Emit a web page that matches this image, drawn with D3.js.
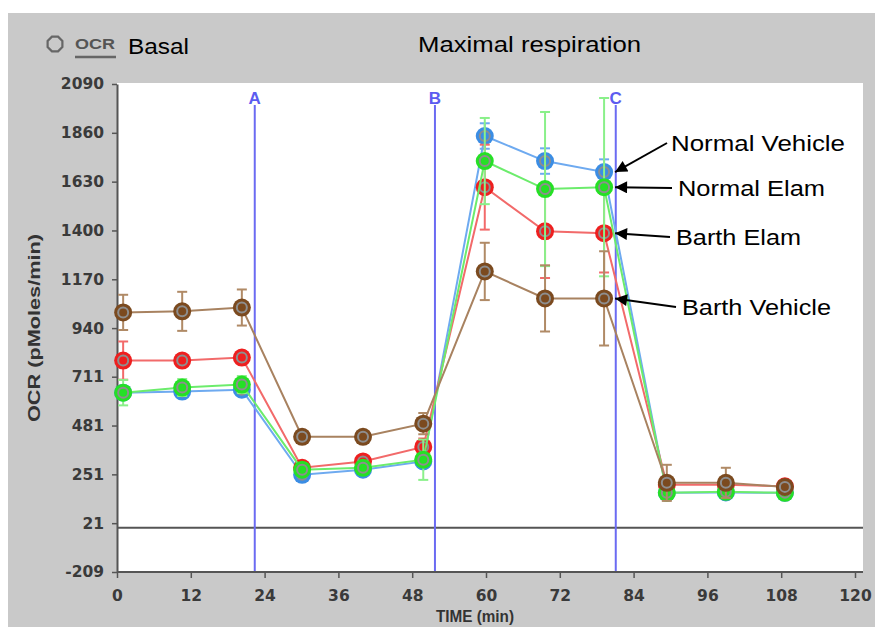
<!DOCTYPE html>
<html>
<head>
<meta charset="utf-8">
<script src="https://cdn.jsdelivr.net/npm/d3@7"></script>
<style>
  body { margin: 0; background: #fff; }
  text { font-family: "Liberation Sans", Arial, sans-serif; }
  .tick text { font-family: "DejaVu Sans", Verdana, sans-serif; }
</style>
</head>
<body>
<script>
'use strict'

// time points (min)
let times = [1, 10.6, 20.3, 30.1, 40, 49.8, 59.8, 69.6, 79.2, 89.4, 99, 108.6]

let normalVehicle    = [636, 641, 650, 249, 273, 312, 1845, 1727, 1675, 164, 166, 164]
let normalVehicleErr = [30, 25, 25, 20, 20, 30, 60, 60, 60, 15, 15, 15]
let normalElam       = [636, 660, 674, 273, 282, 320, 1727, 1595, 1604, 164, 169, 164]
let normalElamErr    = [60, 40, 40, 30, 30, 95, 203, 363, 420, 20, 20, 20]
let barthElam        = [787, 787, 801, 282, 312, 380, 1604, 1396, 1387, 202, 202, 195]
let barthElamErr     = [90, 30, 30, 25, 30, 40, 200, 220, 185, 20, 20, 20]
let barthVehicle     = [1014, 1019, 1037, 428, 428, 490, 1207, 1080, 1080, 211, 211, 192]
let barthVehicleErr  = [83, 92, 85, 20, 20, 50, 135, 156, 222, 85, 71, 30]

let injections = [22.4, 51.7, 81.1]
let injectionNames = ["A", "B", "C"]

let yTicks = [-209, 21, 251, 481, 711, 940, 1170, 1400, 1630, 1860, 2090]
let xTicks = [0, 12, 24, 36, 48, 60, 72, 84, 96, 108, 120]

// draw order: blue, red, green, brown
let series = [
  { name: "Normal Vehicle", v: normalVehicle, e: normalVehicleErr, fill: "#3b8de4", line: "#6eaaf0", bar: "#6eaaf0" },
  { name: "Barth Elam",     v: barthElam,     e: barthElamErr,     fill: "#ee1f1f", line: "#f26a6a", bar: "#f26a6a" },
  { name: "Normal Elam",    v: normalElam,    e: normalElamErr,    fill: "#25e025", line: "#6cec6c", bar: "#8af08a" },
  { name: "Barth Vehicle",  v: barthVehicle,  e: barthVehicleErr,  fill: "#7b4a1f", line: "#a88260", bar: "#b08a66" }
]

// annotation labels, pointing at the last point before injection C
let notes = [
  { text: "Normal Vehicle", tx: 671, ty: 151, w: 174, ax: 667, ay: 143, s: 0 },
  { text: "Normal Elam",    tx: 678, ty: 196, w: 147, ax: 672, ay: 188, s: 2 },
  { text: "Barth Elam",     tx: 676, ty: 245, w: 125, ax: 670, ay: 237, s: 1 },
  { text: "Barth Vehicle",  tx: 682, ty: 315, w: 149, ax: 676, ay: 307, s: 3 }
]

let width = 875, height = 630
let svg = d3.select("body").append("svg")
  .attr("width", width)
  .attr("height", height)

// gray panel + white plot area
svg.append("rect").attr("x", 8).attr("y", 13).attr("width", 867).attr("height", 614).attr("fill", "#c9c9c9")
svg.append("rect").attr("x", 117).attr("y", 83).attr("width", 746).attr("height", 489).attr("fill", "#fff")

let x = d3.scaleLinear().domain([0, 120]).range([117, 855])
let y = d3.scaleLinear().domain([-209, 2090]).range([572, 84])

// zero line
svg.append("line")
  .attr("x1", 117).attr("x2", 863)
  .attr("y1", y(0)).attr("y2", y(0))
  .attr("stroke", "#555").attr("stroke-width", 2)

// injection lines
let inj = svg.append("g")
inj.selectAll("line").data(injections).enter().append("line")
  .attr("x1", d => x(d)).attr("x2", d => x(d))
  .attr("y1", 105).attr("y2", 572)
  .attr("stroke", "#6b6bf2").attr("stroke-width", 2)
inj.selectAll("text").data(injections).enter().append("text")
  .attr("x", d => x(d)).attr("y", 104)
  .attr("text-anchor", "middle")
  .attr("font-size", 17).attr("font-weight", "bold")
  .attr("fill", "#5c5cf0")
  .text((d, i) => injectionNames[i])

// axes
let yAxis = d3.axisLeft(y).tickValues(yTicks).tickSize(5).tickSizeOuter(0).tickPadding(8).tickFormat(d => String(d))
let xAxis = d3.axisBottom(x).tickValues(xTicks).tickSize(6).tickSizeOuter(0).tickPadding(12)

let gy = svg.append("g").attr("transform", "translate(117,0)").call(yAxis)
let gx = svg.append("g").attr("transform", "translate(0,572)").call(xAxis)
gx.select(".domain").attr("d", "M117,0H863")

;[gx, gy].forEach(g => {
  g.select(".domain").attr("stroke", "#555").attr("stroke-width", 2)
  g.selectAll(".tick line").attr("stroke", "#555").attr("stroke-width", 1.5)
  g.selectAll(".tick text")
    .attr("font-size", 15.5).attr("font-weight", "bold").attr("fill", "#3a3a3a")
})

// series
let lineGen = d3.line().x((d, i) => x(times[i])).y(d => y(d))

series.forEach(s => {
  let g = svg.append("g")
  // error bars
  s.v.forEach((v, i) => {
    let cx = x(times[i])
    g.append("line").attr("x1", cx).attr("x2", cx)
      .attr("y1", y(v + s.e[i])).attr("y2", y(v - s.e[i]))
      .attr("stroke", s.bar).attr("stroke-width", 2)
    ;[v + s.e[i], v - s.e[i]].forEach(c => {
      g.append("line").attr("x1", cx - 5).attr("x2", cx + 5)
        .attr("y1", y(c)).attr("y2", y(c))
        .attr("stroke", s.bar).attr("stroke-width", 2)
    })
  })
  g.append("path").datum(s.v)
    .attr("d", lineGen)
    .attr("fill", "none").attr("stroke", s.line).attr("stroke-width", 2)
  g.selectAll("circle.m").data(s.v).enter().append("circle")
    .attr("class", "m")
    .attr("cx", (d, i) => x(times[i])).attr("cy", d => y(d))
    .attr("r", 9).attr("fill", s.fill)
  g.selectAll("circle.in").data(s.v).enter().append("circle")
    .attr("class", "in")
    .attr("cx", (d, i) => x(times[i])).attr("cy", d => y(d))
    .attr("r", 5).attr("fill", "none").attr("stroke", "#8e8e8e").attr("stroke-width", 2)
})

// legend top-left
let oct = d3.range(8).map(k => {
  let a = Math.PI / 8 + k * Math.PI / 4
  return [55 + 8 * Math.cos(a), 44 + 8 * Math.sin(a)]
})
svg.append("polygon").attr("points", oct.map(p => p.join(",")).join(" "))
  .attr("fill", "none").attr("stroke", "#666").attr("stroke-width", 2.2)
svg.append("text").attr("x", 75).attr("y", 49)
  .attr("font-size", 15).attr("font-weight", "bold").attr("fill", "#555")
  .attr("textLength", 40).attr("lengthAdjust", "spacingAndGlyphs").text("OCR")
svg.append("line").attr("x1", 75).attr("x2", 116).attr("y1", 57).attr("y2", 57)
  .attr("stroke", "#666").attr("stroke-width", 2.5)
svg.append("text").attr("x", 128).attr("y", 54)
  .attr("font-size", 22).attr("fill", "#000")
  .attr("textLength", 61).attr("lengthAdjust", "spacingAndGlyphs").text("Basal")
svg.append("text").attr("x", 418).attr("y", 52)
  .attr("font-size", 22).attr("fill", "#000")
  .attr("textLength", 223).attr("lengthAdjust", "spacingAndGlyphs").text("Maximal respiration")

// axis titles
svg.append("text")
  .attr("text-anchor", "middle")
  .attr("transform", "translate(40,328)rotate(-90)")
  .attr("font-size", 17).attr("font-weight", "bold").attr("fill", "#333")
  .attr("textLength", 188).attr("lengthAdjust", "spacingAndGlyphs")
  .text("OCR (pMoles/min)")
svg.append("text")
  .attr("text-anchor", "middle")
  .attr("x", 475).attr("y", 622)
  .attr("font-size", 16).attr("font-weight", "bold").attr("fill", "#333")
  .attr("textLength", 78).attr("lengthAdjust", "spacingAndGlyphs")
  .text("TIME (min)")

// annotations with arrows
svg.append("defs").append("marker")
  .attr("id", "arr").attr("viewBox", "0 0 10 10")
  .attr("refX", 10).attr("refY", 5)
  .attr("markerWidth", 8).attr("markerHeight", 6)
  .attr("markerUnits", "strokeWidth")
  .attr("orient", "auto")
  .append("path").attr("d", "M0,0L10,5L0,10Z").attr("fill", "#000")

notes.forEach(n => {
  let s = series[n.s]
  let last = 8
  svg.append("line")
    .attr("x1", n.ax).attr("y1", n.ay)
    .attr("x2", x(times[last]) + 11).attr("y2", y(s.v[last]))
    .attr("stroke", "#000").attr("stroke-width", 2)
    .attr("marker-end", "url(#arr)")
  svg.append("text").attr("x", n.tx).attr("y", n.ty)
    .attr("font-size", 22).attr("fill", "#000")
    .attr("textLength", n.w).attr("lengthAdjust", "spacingAndGlyphs")
    .text(n.text)
})
</script>
</body>
</html>
